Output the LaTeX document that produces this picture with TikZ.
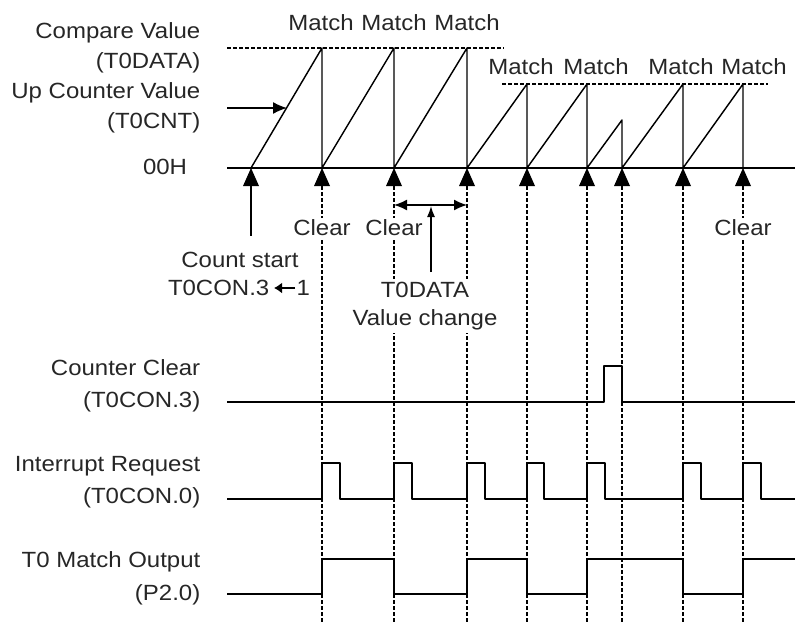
\documentclass[tikz,border=0pt]{standalone}
\usepackage{fontspec}
\setmainfont{Liberation Sans}[FakeStretch=1.09]
\usetikzlibrary{arrows.meta}
\begin{document}
\begin{tikzpicture}[x=1pt,y=-1pt,line width=1.45pt,line join=round,
  txt/.style={font=\fontsize{22}{30}\selectfont,inner sep=1pt,text=black!85},
  lbl/.style={txt,align=right,anchor=east},
  clr/.style={txt,fill=white,inner sep=2pt},
  guide/.style={dash pattern=on 4pt off 2pt,line width=1.3pt},
  tri/.style={fill=black},
  head/.style={-{Latex[length=14pt,width=12pt]}}]
\useasboundingbox (0,0) rectangle (795,623);
% event coordinates
\coordinate (s) at (251,168);
\foreach \n/\x in {e1/322,e2/394,e3/467,e4/527,e5/587,c/622,e6/683,e7/743}{
  \coordinate (\n) at (\x,168);
  \draw[guide] (\x,186) -- (\x,623);
}
% triangles
\foreach \x in {251,322,394,467,527,587,622,683,743}{
  \fill[tri] (\x,168) -- (\x-8,186) -- (\x+8,186) -- cycle;
}
% compare levels
\draw[guide] (227,48) -- (504,48);
\draw[guide] (502,84) -- (768,84);
% baseline
\draw (227,168) -- (795,168);
% sawtooth
\draw (251,168) -- (322,48) -- (322,168) -- (394,48) -- (394,168) -- (467,48) -- (467,168)
  -- (527,84) -- (527,168) -- (587,84) -- (587,168) -- (622,120) -- (622,168)
  -- (683,84) -- (683,168) -- (743,84) -- (743,168);
% counter clear
\draw (227,402) -- (604,402) -- (604,366) -- (622,366) -- (622,402) -- (795,402);
% interrupt request
\draw (227,499) -- (322,499) -- (322,463) -- (340,463) -- (340,499) -- (394,499) -- (394,463)
  -- (412,463) -- (412,499) -- (467,499) -- (467,463) -- (485,463) -- (485,499) -- (527,499)
  -- (527,463) -- (544,463) -- (544,499) -- (587,499) -- (587,463) -- (605,463) -- (605,499)
  -- (683,499) -- (683,463) -- (701,463) -- (701,499) -- (743,499) -- (743,463) -- (761,463)
  -- (761,499) -- (795,499);
% match output
\draw (227,594) -- (322,594) -- (322,559) -- (394,559) -- (394,594) -- (467,594) -- (467,559)
  -- (527,559) -- (527,594) -- (587,594) -- (587,559) -- (683,559) -- (683,594) -- (743,594)
  -- (743,559) -- (795,559);
% left labels
\node[lbl,font=\fontsize{22}{30}\selectfont] (cmp) at (202,48) {Compare Value\\(T0DATA)};
\node[lbl,font=\fontsize{22}{30}\selectfont] (cnt) at (202,108) {Up Counter Value\\(T0CNT)};
\node[txt] (zero) at (165,167) {00H};
\node[lbl,font=\fontsize{22}{32}\selectfont] (cc) at (202,386) {Counter Clear\\(T0CON.3)};
\node[lbl,font=\fontsize{22}{32}\selectfont] (ir) at (202,482) {Interrupt Request\\(T0CON.0)};
\node[lbl,font=\fontsize{22}{33}\selectfont] (mo) at (202,578) {T0 Match Output\\(P2.0)};
% match labels
\foreach \n/\x/\y in {m1/321/23,m2/394/23,m3/467/23,m4/521/67,m5/596/67,m6/681/67,m7/754/67}{
  \node[txt] (\n) at (\x,\y) {Match};
}
% counter arrow
\coordinate (ca) at (227,108);
\coordinate (cb) at (287,108);
\draw[head] (ca) -- (cb);
% clear labels
\node[clr] (cl1) at (322,228) {Clear};
\node[clr] (cl2) at (394,228) {Clear};
\node[clr] (cl3) at (743,228) {Clear};
% count start
\node[txt] (cs) at (240,260) {Count start};
\node[txt,anchor=east,inner sep=0pt] (cs2) at (270,288) {T0CON.3};
\node[txt,anchor=west,inner sep=0pt] (one) at (296,288) {1};
\draw[line width=1.6pt,-{Latex[length=8pt,width=11pt]}] ([xshift=-1pt]one.west) -- ([xshift=4pt]cs2.east);
\draw (251,186) -- (251,236);
% value change
\node[txt,fill=white,align=center,inner sep=3pt,font=\fontsize{22}{28}\selectfont] (vc) at (425,306) {T0DATA\\Value change};
\coordinate (da) at (394,205);
\coordinate (db) at (467,205);
\draw[{Latex[length=13pt,width=11pt]}-{Latex[length=13pt,width=11pt]}] (da) -- (db);
\coordinate (va) at (431,272);
\coordinate (vb) at (431,206);
\draw[-{Latex[length=11pt,width=8pt]}] (va) -- (vb);
\end{tikzpicture}
\end{document}
